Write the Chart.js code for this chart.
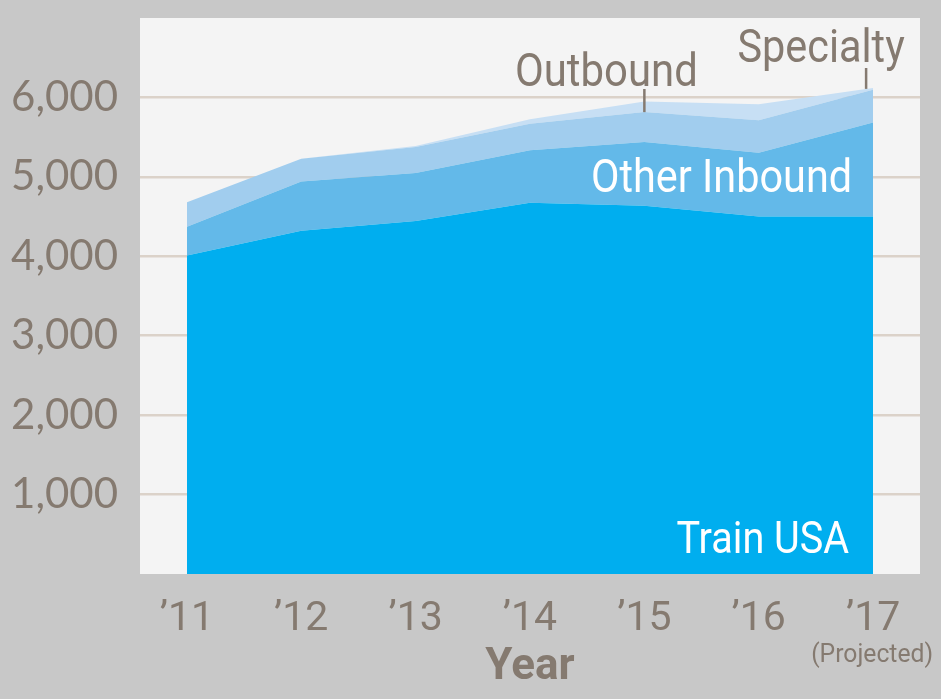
<!DOCTYPE html>
<html>
<head>
<meta charset="utf-8">
<script src="https://cdn.jsdelivr.net/npm/chart.js@4.4.1/dist/chart.umd.min.js"></script>
<style>
  html, body { margin: 0; padding: 0; background: #c8c8c8; }
  #wrap { width: 941px; height: 699px; position: relative; }
</style>
</head>
<body>
<div id="wrap"><canvas id="c" width="941" height="699"></canvas></div>
<script>
// ---- data ----
const years = [2011, 2012, 2013, 2014, 2015, 2016, 2017];
const tickLabels = ['\u201911', '\u201912', '\u201913', '\u201914', '\u201915', '\u201916', '\u201917'];
const trainUSA     = [4010, 4320, 4445, 4675, 4635, 4500, 4500];
const otherInbound = [360, 620, 605, 660, 805, 805, 1185];
const outbound     = [310, 288, 325, 335, 375, 407, 412];
const specialty    = [0, 0, 15, 55, 135, 203, 23];
const yTicks = [1000, 2000, 3000, 4000, 5000, 6000];
const seriesNames = ['Train USA', 'Other Inbound', 'Outbound', 'Specialty'];

const TEXT = '#857a70';
const FONT = 'Roboto, "Noto Sans", sans-serif';

function pts(arr) { return years.map((y, i) => ({ x: y, y: arr[i] })); }

const bgPlugin = {
  id: 'plotBg',
  beforeDraw(chart) {
    const { ctx, chartArea: a } = chart;
    ctx.save();
    ctx.fillStyle = '#f4f4f4';
    ctx.fillRect(a.left, a.top, a.right - a.left, a.bottom - a.top);
    ctx.restore();
  }
};

// draw text squeezed horizontally (the reference uses a condensed face)
function squeezed(ctx, text, x, y, align, sx) {
  ctx.save();
  ctx.translate(x, y);
  ctx.scale(sx, 1);
  ctx.textAlign = align;
  ctx.fillText(text, 0, 0);
  ctx.restore();
}

const labelPlugin = {
  id: 'seriesLabels',
  afterDraw(chart) {
    const { ctx } = chart;
    const xs = chart.scales.x, ys = chart.scales.y;
    const n = years.length - 1;
    const topOf = (k, i) => {
      let s = trainUSA[i];
      if (k >= 1) s += otherInbound[i];
      if (k >= 2) s += outbound[i];
      if (k >= 3) s += specialty[i];
      return s;
    };
    const xLast = xs.getPixelForValue(years[n]);
    ctx.save();
    ctx.textBaseline = 'alphabetic';
    // white labels inside the areas
    ctx.fillStyle = '#ffffff';
    ctx.font = '46px ' + FONT;
    squeezed(ctx, seriesNames[1], xLast - 21, 192, 'right', 0.9);
    ctx.font = '44px ' + FONT;
    squeezed(ctx, seriesNames[0], xLast - 24, 553, 'right', 0.9);
    // outside labels with leader ticks
    ctx.fillStyle = TEXT;
    ctx.strokeStyle = TEXT;
    ctx.lineWidth = 2.5;
    ctx.font = '46px ' + FONT;
    const x15 = xs.getPixelForValue(years[4]);
    squeezed(ctx, seriesNames[2], x15 - 38, 86, 'center', 0.91);
    ctx.beginPath();
    ctx.moveTo(x15, 89);
    ctx.lineTo(x15, ys.getPixelForValue(topOf(2, 4)));
    ctx.stroke();
    const x17 = xLast - 7;
    squeezed(ctx, seriesNames[3], x17 - 45, 62, 'center', 0.9);
    ctx.beginPath();
    ctx.moveTo(x17, 68);
    ctx.lineTo(x17, ys.getPixelForValue(topOf(3, n)) + 1);
    ctx.stroke();
    // (Projected) note under the last tick
    ctx.font = '26px ' + FONT;
    squeezed(ctx, '(Projected)', xLast - 1, 662, 'center', 0.95);
    ctx.restore();
  }
};

new Chart(document.getElementById('c'), {
  type: 'line',
  data: {
    datasets: [
      { label: seriesNames[0], data: pts(trainUSA), backgroundColor: '#00aeef', fill: 'origin' },
      { label: seriesNames[1], data: pts(otherInbound), backgroundColor: '#63b9e9', fill: '-1' },
      { label: seriesNames[2], data: pts(outbound), backgroundColor: '#a1cdee', fill: '-1' },
      { label: seriesNames[3], data: pts(specialty), backgroundColor: '#c7dff4', fill: '-1' }
    ]
  },
  options: {
    responsive: false,
    animation: false,
    devicePixelRatio: 1,
    layout: { padding: { top: 18, right: 21, left: 0, bottom: 0 } },
    elements: {
      line: { borderWidth: 0, tension: 0 },
      point: { radius: 0, hoverRadius: 0 }
    },
    plugins: {
      legend: { display: false },
      tooltip: { enabled: false },
      filler: { propagate: false }
    },
    scales: {
      x: {
        type: 'linear',
        min: years[0] - 0.41,
        max: years[years.length - 1] + 0.41,
        afterBuildTicks(s) { s.ticks = years.map(v => ({ value: v })); },
        afterFit(s) { s.height = 125; s.paddingLeft = 0; s.paddingRight = 0; },
        grid: { display: false },
        border: { display: false },
        ticks: {
          padding: 13,
          color: TEXT,
          font: { family: FONT, size: 41 },
          maxRotation: 0,
          autoSkip: false,
          callback(v) { const i = years.indexOf(v); return i >= 0 ? tickLabels[i] : ''; }
        },
        title: {
          display: true,
          text: 'Year',
          color: TEXT,
          font: { family: FONT, size: 44, weight: 'bold' },
          padding: { top: 0, bottom: 5 }
        }
      },
      y: {
        stacked: true,
        min: 0,
        max: 7000,
        afterBuildTicks(s) { s.ticks = yTicks.map(v => ({ value: v })); },
        afterFit(s) { s.width = 140; s.paddingTop = 0; s.paddingBottom = 0; },
        grid: { color: '#dbd2c9', lineWidth: 2.5, drawTicks: false },
        border: { display: false },
        ticks: {
          padding: 22,
          color: TEXT,
          font: { family: 'Lato, sans-serif', size: 42 },
          callback(v) { return v.toLocaleString('en-US'); }
        }
      }
    }
  },
  plugins: [bgPlugin, labelPlugin]
});
</script>
</body>
</html>
